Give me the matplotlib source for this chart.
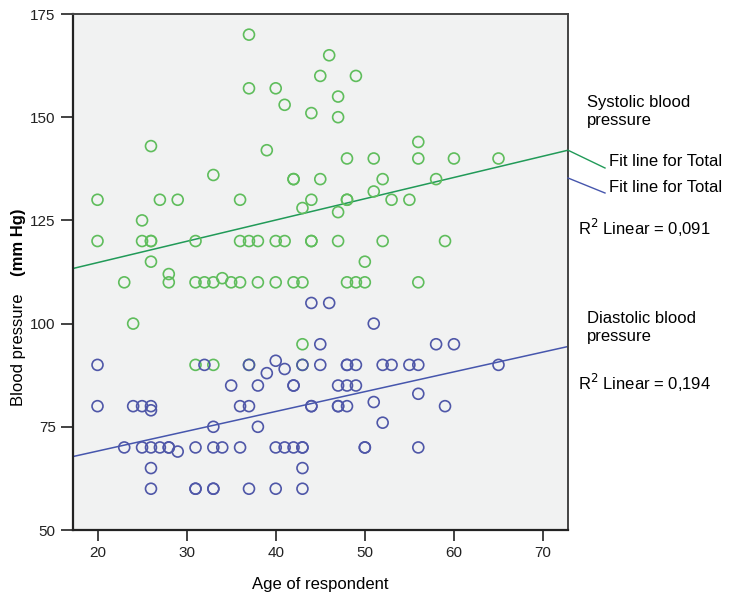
import numpy as np
import matplotlib
matplotlib.use("Agg")
import matplotlib.pyplot as plt
from matplotlib.lines import Line2D

plt.rcParams['font.family'] = ['Liberation Sans', 'DejaVu Sans']

# systolic blood pressure (green), age / value pairs
sys_age = [37, 46, 45, 49, 37, 40, 47, 41, 44, 47, 56, 26, 39,
           48, 51, 56, 60, 65, 33, 42, 42, 45, 52, 58, 51,
           20, 27, 29, 36, 44, 48, 48, 53, 55, 43, 47, 25,
           20, 25, 26, 26, 31, 36, 37, 38, 40, 41, 44, 44, 47, 52, 59,
           26, 50, 28, 34,
           23, 28, 31, 32, 33, 35, 36, 38, 40, 42, 43, 48, 49, 50, 56,
           24, 43, 31, 33, 37, 43]
sys_bp = [170, 165, 160, 160, 157, 157, 155, 153, 151, 150, 144, 143, 142,
          140, 140, 140, 140, 140, 136, 135, 135, 135, 135, 135, 132,
          130, 130, 130, 130, 130, 130, 130, 130, 130, 128, 127, 125,
          120, 120, 120, 120, 120, 120, 120, 120, 120, 120, 120, 120, 120, 120, 120,
          115, 115, 112, 111,
          110, 110, 110, 110, 110, 110, 110, 110, 110, 110, 110, 110, 110, 110, 110,
          100, 95, 90, 90, 90, 90]

# diastolic blood pressure (blue)
dia_age = [44, 46, 51, 45, 58, 60, 40,
           20, 32, 37, 43, 45, 48, 48, 49, 52, 53, 55, 56, 65,
           41, 39, 35, 38, 42, 42, 47, 48, 49, 56, 51,
           20, 24, 25, 26, 36, 37, 44, 44, 47, 47, 48, 59, 26, 52, 33, 38,
           23, 25, 26, 27, 28, 28, 31, 33, 34, 36, 40, 41, 42, 43, 43, 50, 50, 56,
           29, 26, 43, 26, 31, 31, 33, 33, 37, 40, 43]
dia_bp = [105, 105, 100, 95, 95, 95, 91,
          90, 90, 90, 90, 90, 90, 90, 90, 90, 90, 90, 90, 90,
          89, 88, 85, 85, 85, 85, 85, 85, 85, 83, 81,
          80, 80, 80, 80, 80, 80, 80, 80, 80, 80, 80, 80, 79, 76, 75, 75,
          70, 70, 70, 70, 70, 70, 70, 70, 70, 70, 70, 70, 70, 70, 70, 70, 70, 70,
          69, 65, 65, 60, 60, 60, 60, 60, 60, 60, 60]

x_ticks = [20, 30, 40, 50, 60, 70]
y_ticks = [50, 75, 100, 125, 150, 175]

green = '#5fbd5c'
blue = '#4f57a8'
green_line = '#219a58'
blue_line = '#4656ad'

fig = plt.figure(figsize=(7.51, 6.05), dpi=100)
W, H = 751, 605
ax = fig.add_axes([73 / W, 1 - 530 / H, (568 - 73) / W, (530 - 14) / H])
ax.set_facecolor('#f1f2f2')

ax.scatter(sys_age, sys_bp, s=62, facecolors='none', edgecolors=green, linewidths=1.2, zorder=3)
ax.scatter(dia_age, dia_bp, s=62, facecolors='none', edgecolors=blue, linewidths=1.2, zorder=3)

xlim = (17.25, 72.8)
xx = np.array(xlim)
cs = np.polyfit(sys_age, sys_bp, 1)
cd = np.polyfit(dia_age, dia_bp, 1)
ax.plot(xx, np.polyval(cs, xx), color=green_line, lw=1.1, zorder=2)
ax.plot(xx, np.polyval(cd, xx), color=blue_line, lw=1.1, zorder=2)

ax.set_xlim(*xlim)
ax.set_ylim(50, 175)
ax.set_xticks(x_ticks)
ax.set_yticks(y_ticks)
ax.tick_params(axis='both', direction='out', labelsize=11, colors='#222222')
ax.tick_params(axis='y', length=9, width=1.2)
ax.tick_params(axis='x', length=8, width=1.2)
for side in ['left', 'bottom']:
    ax.spines[side].set_linewidth(1.6)
    ax.spines[side].set_color('#222222')
for side in ['top', 'right']:
    ax.spines[side].set_linewidth(1.4)
    ax.spines[side].set_color('#444444')

ax.set_xlabel('Age of respondent', fontsize=12, labelpad=12)
fig.text(19 / W, 1 - 350 / H, 'Blood pressure', rotation=90, fontsize=12,
         ha='center', va='center')
fig.text(19 / W, 1 - 242 / H, '(mm Hg)', rotation=90, fontsize=12,
         fontweight='bold', ha='center', va='center')

# leader lines to the fit-line labels in the right margin
ys = np.polyval(cs, xlim[1])
y_px = 14 + (175 - ys) / 125 * 516
fig.add_artist(Line2D([568 / W, 605 / W], [1 - y_px / H, 1 - 168 / H], color=green_line, lw=1.0))
fig.add_artist(Line2D([568 / W, 605 / W], [1 - 178 / H, 1 - 193 / H], color=blue_line, lw=1.0))

fig.text(587 / W, 1 - 112 / H, 'Systolic blood\npressure', fontsize=12, va='center', linespacing=1.25)
fig.text(609 / W, 1 - 162 / H, 'Fit line for Total', fontsize=12, va='center')
fig.text(609 / W, 1 - 187 / H, 'Fit line for Total', fontsize=12, va='center')
fig.text(578 / W, 1 - 228 / H, 'R$^2$ Linear = 0,091', fontsize=12, va='center')
fig.text(587 / W, 1 - 328 / H, 'Diastolic blood\npressure', fontsize=12, va='center', linespacing=1.25)
fig.text(578 / W, 1 - 383 / H, 'R$^2$ Linear = 0,194', fontsize=12, va='center')

fig.savefig('out.png', dpi=100)
